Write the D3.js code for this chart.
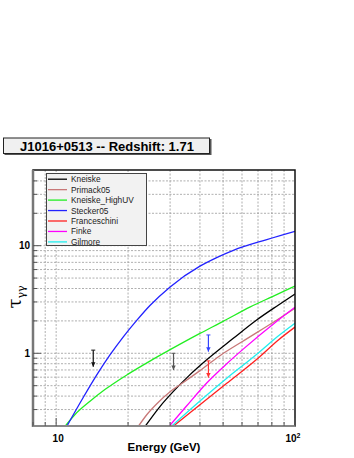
<!DOCTYPE html>
<html lang="en">
<head>
  <meta charset="UTF-8">
  <script src="https://d3js.org/d3.v7.min.js"></script>
  <style>
    body { margin: 0; background: #fff; }
    text { font-family: "Liberation Sans", Arial, sans-serif; }
  </style>
</head>
<body>
<div id="my_dataviz"></div>
<script>
// model names + colours (legend order)
var models = ["Kneiske", "Primack05", "Kneiske_HighUV", "Stecker05", "Franceschini", "Finke", "Gilmore"];
var colors = ["#000000", "#c87878", "#22ee22", "#2222ff", "#ff2020", "#ff00ff", "#22eeee"];

// optical depth curves, [energy GeV, tau]
var kneiske = [[23.6,0.21],[27.2,0.32],[30.9,0.44],[36,0.62],[42.7,0.87],[55,1.37],[69.1,2.04],[85,2.8],[100,3.56]];
var primack05 = [[22.1,0.21],[24,0.27],[26.4,0.34],[30,0.44],[33,0.51],[40,0.69],[48.5,0.95],[60,1.28],[84,2.04],[100,2.62]];
var kneiskeHighUV = [[10.9,0.21],[12,0.27],[13.9,0.36],[16,0.46],[20,0.64],[25,0.86],[30,1.08],[40,1.53],[50,1.98],[65,2.7],[80,3.35],[100,4.22]];
var stecker05 = [[11.1,0.211],[13,0.39],[15,0.66],[16.8,0.965],[19,1.4],[21.7,2.01],[24.7,2.78],[30,4.14],[40,6.45],[47,7.75],[55.2,9.05],[76.2,11.4],[100,13.6]];
var franceschini = [[31,0.211],[40,0.333],[51.8,0.526],[70,0.9],[85.2,1.33],[100,1.75]];
var finke = [[29.8,0.211],[35,0.32],[42.7,0.53],[51.8,0.8],[60,1.07],[85.2,2.04],[100,2.68]];
var gilmore = [[30.5,0.211],[40,0.36],[51.8,0.586],[70,1.0],[81.2,1.33],[100,1.9]];
var curves = [kneiske, primack05, kneiskeHighUV, stecker05, franceschini, finke, gilmore];

// upper limits (energy, tau at top of arrow)
var limE = [14.3, 31.0, 43.4, 43.4];
var limTau = [1.07, 1.0, 1.48, 0.85];
var limColors = ["#111111", "#555555", "#3344ff", "#ff3333"];

var xTicks = [10, 100];
var yTicks = [1, 10];

var width = 354, height = 458;
var pLeft = 33, pRight = 295, pTop = 170, pBottom = 426;

var svg = d3.select("#my_dataviz").append("svg")
  .attr("width", width).attr("height", height);

var x = d3.scaleLog().domain([8, 100]).range([pLeft, pRight]);
var y = d3.scaleLog().domain([0.211, 50.5]).range([pBottom, pTop]);

// title box
svg.append("rect").attr("x", 4.5).attr("y", 139).attr("width", 207).attr("height", 16)
  .attr("fill", "#555");
svg.append("rect").attr("x", 3.5).attr("y", 138).attr("width", 206).attr("height", 15.5)
  .attr("fill", "#f0f0f0").attr("stroke", "#222").attr("stroke-width", 1);
svg.append("text").attr("x", 107).attr("y", 151)
  .attr("text-anchor", "middle").attr("font-size", 13).attr("font-weight", "bold")
  .text("J1016+0513 -- Redshift: 1.71");

// grid
var xGrid = [8, 9, 10, 20, 30, 40, 50, 60, 70, 80, 90];
var yGrid = [0.3, 0.4, 0.5, 0.6, 0.7, 0.8, 0.9, 1, 2, 3, 4, 5, 6, 7, 8, 9, 10, 20, 30, 40];
var grid = svg.append("g").attr("stroke", "#9a9a9a").attr("stroke-width", 0.8)
  .attr("stroke-dasharray", "2,1.5");
grid.selectAll(".gx").data(xGrid).enter().append("line")
  .attr("x1", d => x(d)).attr("x2", d => x(d)).attr("y1", pTop).attr("y2", pBottom);
grid.selectAll(".gy").data(yGrid).enter().append("line")
  .attr("x1", pLeft).attr("x2", pRight).attr("y1", d => y(d)).attr("y2", d => y(d));

// curves
svg.append("clipPath").attr("id", "clip").append("rect")
  .attr("x", pLeft).attr("y", pTop).attr("width", pRight - pLeft).attr("height", pBottom - pTop);
var line = d3.line().x(d => x(d[0])).y(d => y(d[1])).curve(d3.curveMonotoneX);
svg.append("g").attr("clip-path", "url(#clip)")
  .selectAll("path").data(curves).enter().append("path")
  .attr("d", d => line(d)).attr("fill", "none")
  .attr("stroke", (d, i) => colors[i]).attr("stroke-width", 1.3);

// upper limit arrows
var arr = svg.append("g");
limE.forEach(function(e, i) {
  var xx = x(e), y0 = y(limTau[i]), y1 = y(limTau[i] * 0.7);
  var c = limColors[i];
  arr.append("line").attr("x1", xx).attr("x2", xx).attr("y1", y0).attr("y2", y1)
    .attr("stroke", c).attr("stroke-width", 1.2);
  arr.append("line").attr("x1", xx - 2).attr("x2", xx + 2).attr("y1", y0).attr("y2", y0)
    .attr("stroke", c).attr("stroke-width", 1);
  arr.append("path").attr("d", "M" + (xx - 2.2) + "," + (y1 - 4.5) + "L" + (xx + 2.2) + "," + (y1 - 4.5) + "L" + xx + "," + y1 + "Z")
    .attr("fill", c);
});

// frame
svg.append("rect").attr("x", pLeft).attr("y", pTop).attr("width", pRight - pLeft).attr("height", pBottom - pTop)
  .attr("fill", "none").attr("stroke", "#111").attr("stroke-width", 1.5);
svg.append("line").attr("x1", pLeft).attr("x2", pLeft).attr("y1", pTop).attr("y2", pBottom + 1)
  .attr("stroke", "#777").attr("stroke-width", 2.5);
svg.append("line").attr("x1", pLeft).attr("x2", pRight).attr("y1", pBottom).attr("y2", pBottom)
  .attr("stroke", "#888").attr("stroke-width", 2);

// ticks
var tk = svg.append("g").attr("stroke", "#555").attr("stroke-width", 1);
var yMinor = yGrid.filter(d => yTicks.indexOf(d) < 0);
tk.selectAll(".ym").data(yMinor).enter().append("line")
  .attr("x1", pLeft).attr("x2", pLeft + 4).attr("y1", d => y(d)).attr("y2", d => y(d));
tk.selectAll(".yM").data(yTicks).enter().append("line")
  .attr("x1", pLeft).attr("x2", pLeft + 8).attr("y1", d => y(d)).attr("y2", d => y(d));
var xMinor = xGrid.filter(d => xTicks.indexOf(d) < 0);
tk.selectAll(".xm").data(xMinor).enter().append("line")
  .attr("x1", d => x(d)).attr("x2", d => x(d)).attr("y1", pBottom).attr("y2", pBottom - 4);
tk.selectAll(".xM").data(xTicks).enter().append("line")
  .attr("x1", d => x(d)).attr("x2", d => x(d)).attr("y1", pBottom).attr("y2", pBottom - 8);

// tick labels
svg.selectAll(".yl").data(yTicks).enter().append("text")
  .attr("x", 30).attr("y", d => y(d) + 3.5).attr("text-anchor", "end")
  .attr("font-size", 10).attr("font-weight", "bold").text(d => d);
svg.append("text").attr("x", x(10) + 2).attr("y", 442).attr("text-anchor", "middle")
  .attr("font-size", 10).attr("font-weight", "bold").text("10");
var t2 = svg.append("text").attr("x", x(100) - 2).attr("y", 442).attr("text-anchor", "middle")
  .attr("font-size", 10).attr("font-weight", "bold");
t2.append("tspan").text("10");
t2.append("tspan").attr("dy", -4).attr("font-size", 7).text("2");

// axis titles
svg.append("text").attr("x", 164).attr("y", 451).attr("text-anchor", "middle")
  .attr("font-size", 11.5).attr("font-weight", "bold").text("Energy (GeV)");
var yt = svg.append("text").attr("transform", "translate(21,297) rotate(-90)")
  .attr("text-anchor", "middle").style("font-family", "'DejaVu Serif', serif");
yt.append("tspan").attr("font-size", 18).text("τ");
yt.append("tspan").attr("font-size", 11).attr("dy", 4).text("γγ");

// legend
var lg = svg.append("g");
lg.append("rect").attr("x", 46.5).attr("y", 173.5).attr("width", 100).attr("height", 72)
  .attr("fill", "#f2f2f2").attr("stroke", "#444").attr("stroke-width", 1);
models.forEach(function(m, i) {
  var yy = 179.2 + i * 10.45;
  lg.append("line").attr("x1", 48).attr("x2", 67).attr("y1", yy).attr("y2", yy)
    .attr("stroke", colors[i]).attr("stroke-width", 1.3);
  lg.append("text").attr("x", 71).attr("y", yy + 3).attr("font-size", 8.3)
    .attr("fill", "#222").text(m);
});
</script>
</body>
</html>
